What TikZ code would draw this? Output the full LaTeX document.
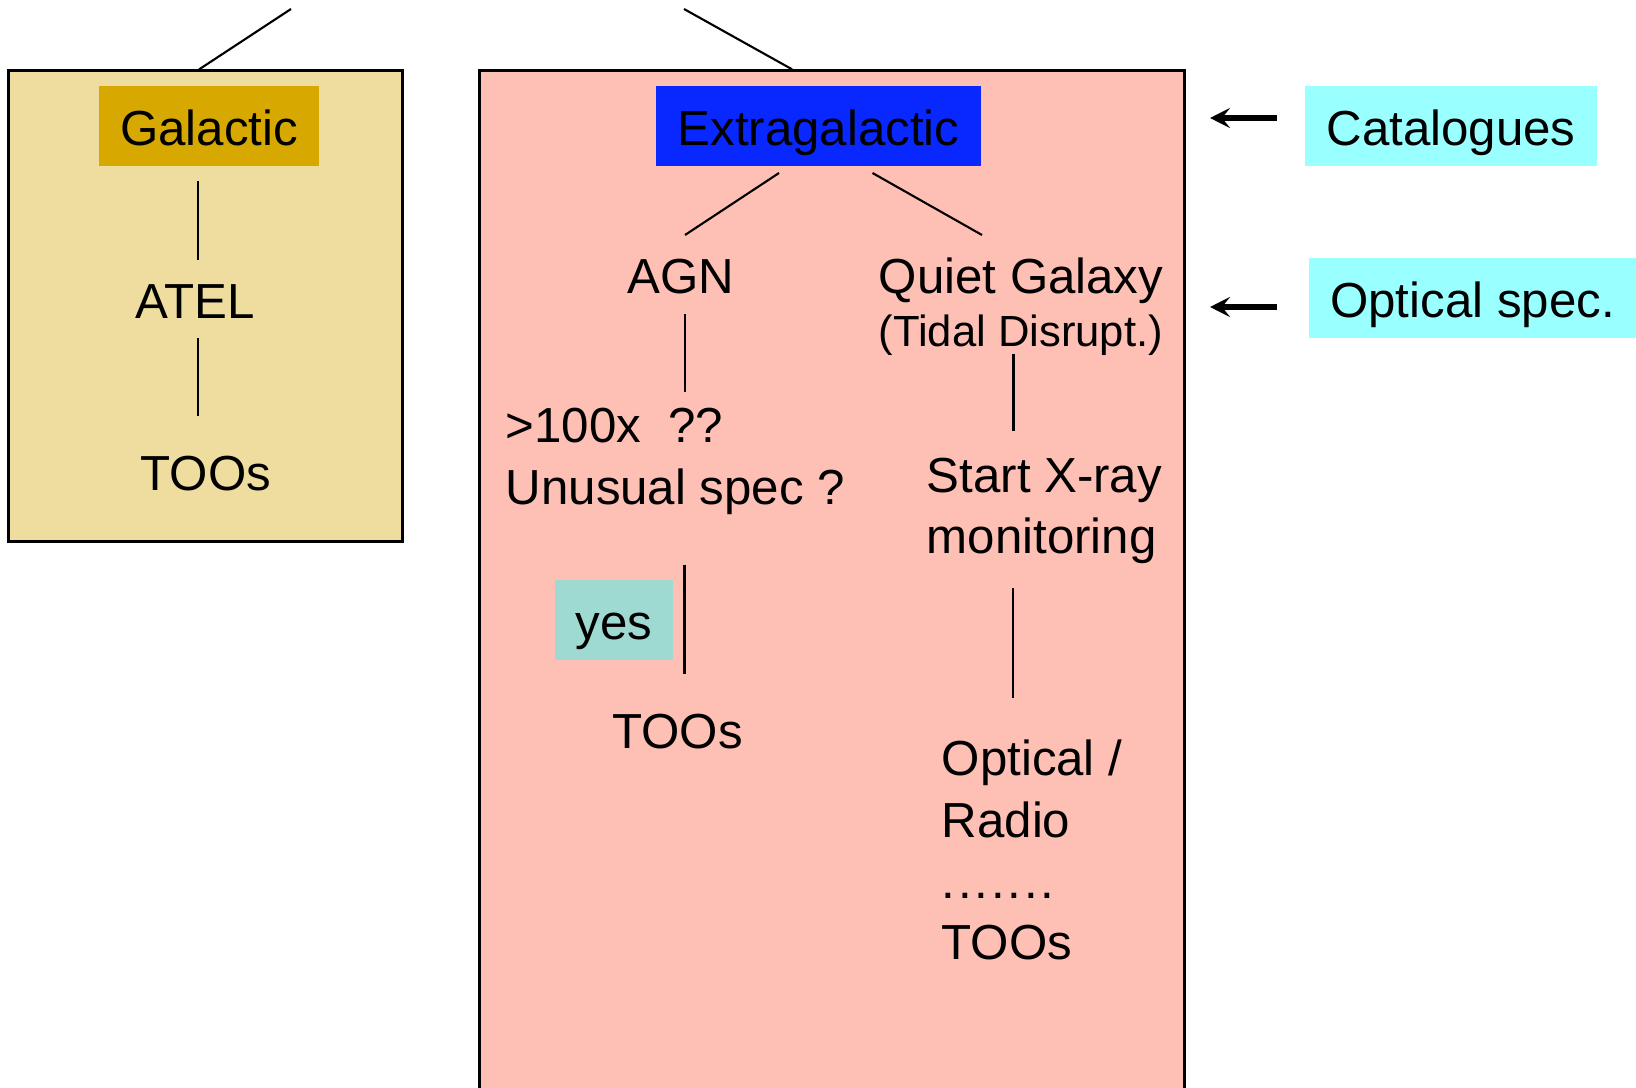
\documentclass[tikz,border=0pt]{standalone}
\usepackage{fontspec}
\setmainfont{Liberation Sans}
\usetikzlibrary{arrows.meta,calc}
\definecolor{galback}{RGB}{238,221,158}
\definecolor{galtag}{RGB}{214,168,0}
\definecolor{extraback}{RGB}{254,191,180}
\definecolor{extratag}{RGB}{8,40,255}
\definecolor{cyantag}{RGB}{153,255,255}
\definecolor{yestag}{RGB}{158,217,210}
\newcommand{\spreaddots}{.\kern0.8pt.\kern0.8pt.\kern0.8pt.\kern0.8pt.\kern0.8pt.\kern0.8pt.}
\tikzset{
  link/.style={line width=0.6pt},
  boxframe/.style={draw, line width=0.8pt, inner sep=0pt},
  tag/.style={inner sep=0pt, text height=0.385cm, text depth=0pt, minimum height=0.8cm},
  txt/.style={anchor=base west, inner sep=0pt, align=left},
  feed/.style={line width=1.6pt, -{Stealth[length=2mm,width=2mm,inset=0.8mm]}}
}
\begin{document}
\begin{tikzpicture}[x=0.01cm,y=-0.01cm,font=\fontsize{14}{17.4}\selectfont]
\useasboundingbox (0,0) rectangle (1636,1088);
\clip (0,0) rectangle (1636,1088);
\node[boxframe, fill=galback, minimum width=3.93cm, minimum height=4.7cm] (galbox) at (205.5,306) {};
\node[boxframe, fill=extraback, minimum width=7.04cm, minimum height=10.4cm] (extrabox) at (832,591) {};
\node[tag, fill=galtag, minimum width=2.2cm] (gal) at (209,126) {Galactic};
\node[tag, fill=extratag, minimum width=3.25cm] (extra) at (818.5,126) {Extragalactic};
\node[tag, fill=cyantag, minimum width=2.92cm] (cat) at (1451,126) {Catalogues};
\node[tag, fill=cyantag, minimum width=3.27cm] (ospec) at (1472.5,298) {Optical spec.};
\node[tag, fill=yestag, minimum width=1.18cm] (yes) at (614,620) {yes};
\node[txt] (atel) at (135,318) {ATEL};
\node[txt] (galtoo) at (140,490) {TOOs};
\node[txt] (agn) at (627,294) {AGN};
\node[txt] (unusual) at (505,504) {>100x\ \ ??\\Unusual spec ?};
\node[txt] (quiet) at (878,294) {Quiet Galaxy};
\node[txt, font=\fontsize{12.4}{15}\selectfont] (tidal) at (878,346.5) {(Tidal Disrupt.)};
\node[txt] (xray) at (926,553.5) {Start X-ray\\monitoring};
\node[txt] (agntoo) at (611.5,748) {TOOs};
\node[txt] (radio) at (941,959.5) {Optical /\\Radio\\\spreaddots\\TOOs};
\coordinate (galtop) at (291,9);
\coordinate (extratop) at (684,9);
\coordinate (gala) at (198,181);
\coordinate (galb) at (198,260);
\coordinate (atela) at (198,337.5);
\coordinate (atelb) at (198,416);
\coordinate (exl) at (779,173);
\coordinate (exr) at (872.5,173);
\coordinate (agna) at (685,235);
\coordinate (agnb) at (685,314);
\coordinate (agnc) at (685,392);
\coordinate (yesa) at (684.5,564.5);
\coordinate (yesb) at (684.5,673.5);
\coordinate (qga) at (982,235);
\coordinate (qgb) at (1013.5,354);
\coordinate (qgc) at (1013.5,431);
\coordinate (xra) at (1013,588);
\coordinate (xrb) at (1013,698);
\coordinate (catin) at (1210,118);
\coordinate (specin) at (1210,307);
\draw[link] (galbox.north) ++(-6.5,0) -- (galtop);
\draw[link] (extrabox.north) ++(-40,0) -- (extratop);
\draw[link] (gala) -- (galb);
\draw[link] (atela) -- (atelb);
\draw[link] (exl) -- (agna);
\draw[link] (exr) -- (qga);
\draw[link] (agnb) -- (agnc);
\draw[link] (yesa) -- (yesb);
\draw[link] (qgb) -- (qgc);
\draw[link] (xra) -- (xrb);
\draw[feed] (catin -| cat.west) ++(-27,0) -- (catin);
\draw[feed] (specin -| ospec.west) ++(-31,0) -- (specin);
\end{tikzpicture}
\end{document}
